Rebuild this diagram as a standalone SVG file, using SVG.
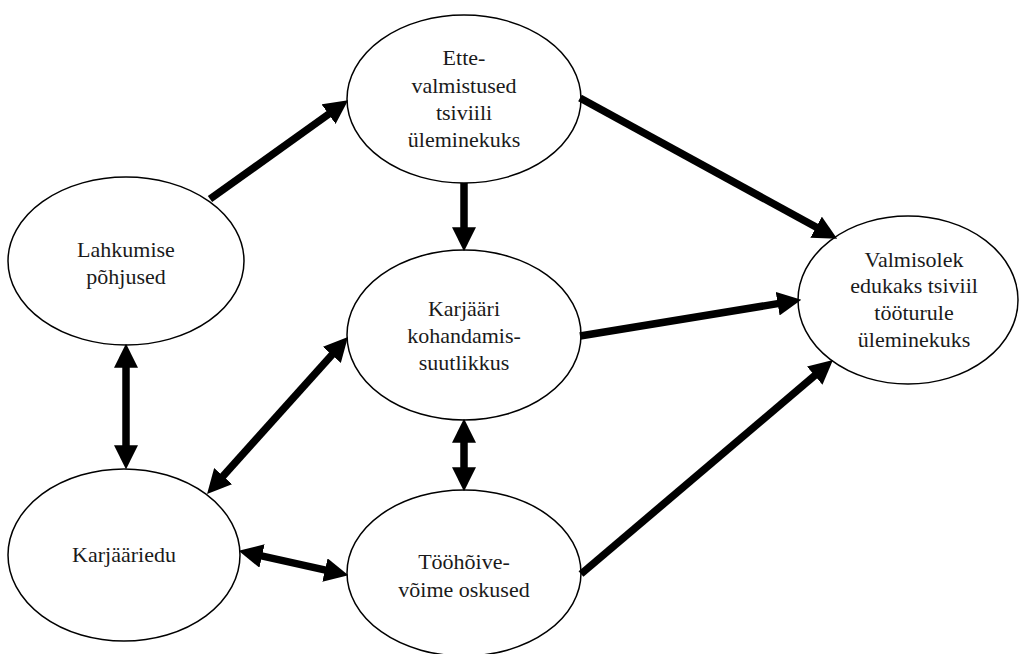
<svg xmlns="http://www.w3.org/2000/svg" width="1020" height="654" viewBox="0 0 1020 654">
<style>
.node ellipse{fill:#fff;stroke:#000;stroke-width:1.5}
.node text{font-family:'Liberation Serif','DejaVu Serif',serif;font-size:22px;fill:#1a1a1a;text-anchor:middle}
.conn line{stroke:#000;stroke-width:7.5;marker-end:url(#ah)}
.conn line.both{marker-start:url(#ah)}
</style>
<defs>
<marker id="ah" markerUnits="userSpaceOnUse" markerWidth="24" markerHeight="24" viewBox="0 0 22 22" refX="7" refY="11" orient="auto-start-reverse">
<path d="M0,0 L22,11 L0,22 z" fill="#000"/>
</marker>
</defs>
<rect width="1020" height="654" fill="#fff"/>
<g id="n-ette" class="node" font-family="'Liberation Serif', 'DejaVu Serif', serif">
<ellipse cx="464" cy="99" rx="117" ry="84"/>
<text x="464" y="65">Ette-</text>
<text x="464" y="93">valmistused</text>
<text x="464" y="120">tsiviili</text>
<text x="464" y="147">üleminekuks</text>
</g>
<g id="n-lahkumise" class="node" font-family="'Liberation Serif', 'DejaVu Serif', serif">
<ellipse cx="126" cy="261" rx="118" ry="84"/>
<text x="126" y="257">Lahkumise</text>
<text x="126" y="284">põhjused</text>
</g>
<g id="n-karjaari" class="node" font-family="'Liberation Serif', 'DejaVu Serif', serif">
<ellipse cx="464" cy="335" rx="117" ry="85"/>
<text x="464" y="316">Karjääri</text>
<text x="464" y="343">kohandamis-</text>
<text x="464" y="370">suutlikkus</text>
</g>
<g id="n-valmisolek" class="node" font-family="'Liberation Serif', 'DejaVu Serif', serif">
<ellipse cx="908" cy="300" rx="110" ry="84"/>
<text x="914" y="267">Valmisolek</text>
<text x="914" y="293">edukaks tsiviil</text>
<text x="914" y="320">tööturule</text>
<text x="914" y="347">üleminekuks</text>
</g>
<g id="n-karjaariedu" class="node" font-family="'Liberation Serif', 'DejaVu Serif', serif">
<ellipse cx="124" cy="555" rx="116" ry="86"/>
<text x="124" y="562">Karjääriedu</text>
</g>
<g id="n-toohoive" class="node" font-family="'Liberation Serif', 'DejaVu Serif', serif">
<ellipse cx="464" cy="573" rx="117" ry="83"/>
<text x="464" y="569">Tööhõive-</text>
<text x="464" y="597">võime oskused</text>
</g>
<g id="connectors" class="conn">
<line x1="210" y1="199" x2="334.8" y2="109.7"/>
<line x1="580" y1="98" x2="822.8" y2="230.8"/>
<line x1="464" y1="183" x2="464" y2="235"/>
<line x1="580" y1="336" x2="785.2" y2="302.4"/>
<line class="both" x1="337" y1="349.2" x2="218" y2="481.8"/>
<line x1="581" y1="574" x2="820.5" y2="370.7"/>
<line class="both" x1="126" y1="360" x2="126" y2="453"/>
<line class="both" x1="464" y1="435" x2="464" y2="475"/>
<line class="both" x1="254.6" y1="554.3" x2="332.4" y2="571.7"/>
</g>
</svg>
